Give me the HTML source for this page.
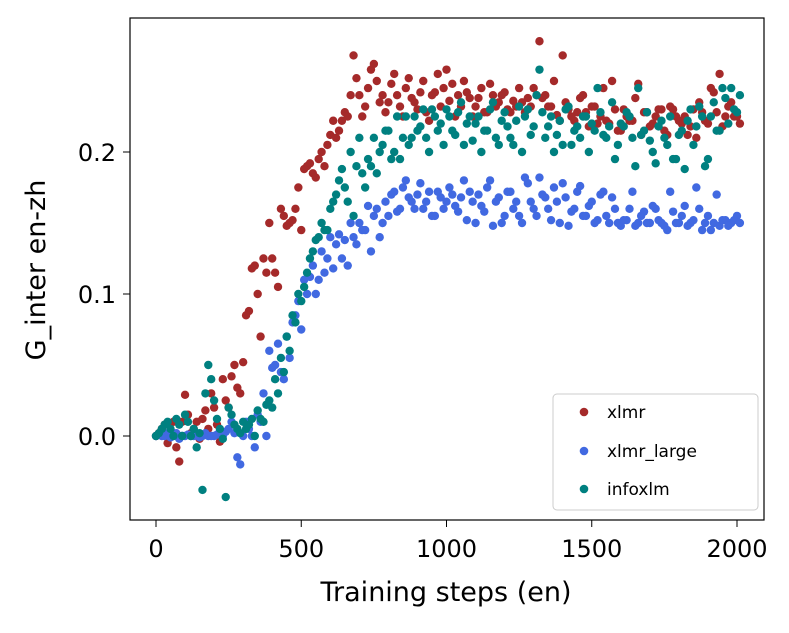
<!DOCTYPE html>
<html><head><meta charset="utf-8"><style>
body{margin:0;background:#fff;}
svg text{font-family:"DejaVu Sans","Liberation Sans",sans-serif;fill:#000;}
</style></head><body>
<svg id="chart" width="789" height="628" viewBox="0 0 789 628" xmlns="http://www.w3.org/2000/svg">
<rect x="130" y="18" width="634" height="502" fill="#fff" stroke="#000" stroke-width="1.2"/>
<g id="marks"></g>
<g id="axes"></g>
<text x="446" y="601" font-size="27" text-anchor="middle">Training steps (en)</text>
<text transform="translate(45,270) rotate(-90)" font-size="27" text-anchor="middle">G_inter en-zh</text>
<g>
<rect x="553" y="394" width="205" height="116" rx="4" fill="#fff" stroke="#ccc"/>
<circle cx="584" cy="412" r="4.3" fill="#a52a2a"/>
<text x="607" y="418" font-size="17">xlmr</text>
<circle cx="584" cy="451" r="4.3" fill="#4169e1"/>
<text x="607" y="457" font-size="17">xlmr_large</text>
<circle cx="584" cy="489" r="4.3" fill="#008080"/>
<text x="607" y="495" font-size="17">infoxlm</text>
</g>
</svg>
<script>
const xStep = 20;
const xlmr = [0.000,0.005,-0.005,0.010,-0.018,0.029,0.002,0.010,0.012,0.005,0.020,-0.004,0.025,0.042,0.034,0.052,0.088,0.120,0.070,0.115,0.125,0.105,0.155,0.150,0.160,0.145,0.190,0.185,0.195,0.190,0.212,0.210,0.222,0.225,0.268,0.240,0.232,0.258,0.250,0.240,0.235,0.255,0.232,0.245,0.238,0.230,0.250,0.222,0.242,0.232,0.258,0.248,0.240,0.250,0.238,0.232,0.245,0.228,0.240,0.235,0.242,0.228,0.232,0.235,0.238,0.245,0.278,0.240,0.232,0.226,0.268,0.230,0.222,0.238,0.228,0.232,0.220,0.245,0.220,0.230,0.215,0.225,0.222,0.248,0.228,0.218,0.225,0.230,0.212,0.230,0.222,0.225,0.218,0.210,0.228,0.220,0.242,0.255,0.225,0.235,0.225];
const xlmrB = [0.002,0.008,0.000,-0.008,0.010,0.015,0.005,-0.002,0.018,0.030,0.008,0.040,0.020,0.050,0.030,0.085,0.118,0.100,0.125,0.150,0.115,0.160,0.148,0.152,0.175,0.188,0.192,0.182,0.200,0.205,0.222,0.215,0.228,0.240,0.252,0.225,0.245,0.262,0.235,0.228,0.248,0.240,0.225,0.252,0.235,0.242,0.228,0.240,0.255,0.245,0.236,0.225,0.232,0.242,0.225,0.238,0.228,0.248,0.232,0.240,0.230,0.236,0.245,0.228,0.232,0.240,0.238,0.232,0.250,0.222,0.235,0.225,0.228,0.240,0.218,0.232,0.225,0.222,0.250,0.215,0.230,0.222,0.238,0.212,0.228,0.220,0.230,0.215,0.232,0.225,0.220,0.212,0.230,0.235,0.222,0.245,0.228,0.218,0.232,0.225,0.220];
const xlmrLarge = [0,0,0.002,0,-0.002,0,0,0.001,0,0,0,0.002,0.003,0.010,-0.015,0.000,0.005,-0.008,0.010,0.000,0.048,0.065,0.040,0.055,0.085,0.075,0.100,0.120,0.110,0.115,0.140,0.135,0.125,0.120,0.140,0.150,0.145,0.130,0.160,0.150,0.155,0.172,0.160,0.180,0.165,0.170,0.160,0.172,0.155,0.168,0.165,0.170,0.158,0.180,0.172,0.150,0.162,0.175,0.148,0.168,0.155,0.172,0.165,0.150,0.178,0.160,0.182,0.168,0.152,0.165,0.178,0.148,0.160,0.176,0.155,0.165,0.152,0.172,0.150,0.160,0.148,0.152,0.172,0.150,0.158,0.150,0.160,0.150,0.145,0.158,0.150,0.162,0.150,0.175,0.145,0.155,0.150,0.148,0.152,0.150,0.155];
const xlmrLargeB = [0.001,0,-0.001,0.002,0,0.001,0,-0.001,0.002,0,0.001,0,0.005,0.002,-0.020,0.010,0.000,0.015,0.030,0.060,0.050,0.045,0.070,0.080,0.095,0.110,0.112,0.100,0.130,0.125,0.118,0.142,0.138,0.150,0.135,0.145,0.162,0.155,0.140,0.165,0.170,0.158,0.175,0.168,0.160,0.178,0.165,0.155,0.172,0.160,0.175,0.162,0.168,0.152,0.165,0.170,0.158,0.180,0.165,0.150,0.172,0.160,0.155,0.182,0.165,0.155,0.170,0.160,0.175,0.150,0.168,0.158,0.172,0.155,0.162,0.150,0.170,0.155,0.168,0.150,0.152,0.160,0.148,0.155,0.150,0.162,0.152,0.148,0.172,0.150,0.155,0.148,0.152,0.160,0.150,0.145,0.170,0.152,0.148,0.152,0.150];
const infoxlm = [0,0.005,0.01,0.0,0.008,0.015,0.0,-0.008,-0.038,0.05,0.025,0.005,-0.043,0.015,0.005,0.010,0.008,0.0,0.012,0.022,0.020,0.030,0.045,0.060,0.080,0.095,0.115,0.130,0.140,0.145,0.160,0.170,0.188,0.165,0.155,0.210,0.175,0.190,0.185,0.205,0.215,0.200,0.195,0.225,0.210,0.215,0.230,0.200,0.225,0.220,0.230,0.215,0.228,0.205,0.225,0.220,0.200,0.215,0.235,0.205,0.228,0.210,0.222,0.200,0.230,0.218,0.258,0.210,0.225,0.212,0.205,0.232,0.215,0.210,0.225,0.220,0.245,0.212,0.218,0.195,0.220,0.228,0.210,0.245,0.215,0.208,0.192,0.222,0.205,0.195,0.212,0.188,0.230,0.218,0.225,0.195,0.235,0.215,0.238,0.245,0.228];
const infoxlmB = [0.002,0.008,0.005,0.012,0.0,0.010,0.005,0.002,0.030,0.040,0.012,-0.002,0.020,0.008,0.002,0.005,0.012,0.018,0.010,0.025,0.040,0.055,0.070,0.085,0.100,0.105,0.125,0.138,0.150,0.145,0.165,0.180,0.175,0.200,0.190,0.185,0.195,0.210,0.200,0.215,0.195,0.225,0.210,0.205,0.225,0.218,0.210,0.230,0.215,0.205,0.225,0.212,0.235,0.220,0.208,0.225,0.215,0.230,0.210,0.222,0.218,0.205,0.232,0.225,0.212,0.240,0.228,0.218,0.200,0.222,0.230,0.205,0.218,0.225,0.200,0.215,0.228,0.210,0.235,0.205,0.218,0.225,0.190,0.212,0.228,0.200,0.218,0.210,0.225,0.195,0.215,0.222,0.205,0.232,0.190,0.225,0.215,0.245,0.220,0.230,0.240];
const xTicks = [0,500,1000,1500,2000];
const yTicks = [0.0,0.1,0.2];
const yTickLabels = ["0.0","0.1","0.2"];

const NS = "http://www.w3.org/2000/svg";
function xScale(v){ return 156 + v*(581/2000); }
function yScale(v){ return 436 - v*1420; }

const marks = document.getElementById('marks');
function drawSeries(vals, offset, color, name){
  vals.forEach((v,i)=>{
    const c = document.createElementNS(NS,'circle');
    c.setAttribute('cx', xScale(offset + i*xStep));
    c.setAttribute('cy', yScale(v));
    c.setAttribute('r', 4.2);
    c.setAttribute('fill', color);
    
    
    c.setAttribute('class', name);
    marks.appendChild(c);
  });
}
drawSeries(xlmr, 0, '#a52a2a', 'xlmr');
drawSeries(xlmrB, 10, '#a52a2a', 'xlmr');
drawSeries(xlmrLarge, 0, '#4169e1', 'xlmr-large');
drawSeries(xlmrLargeB, 10, '#4169e1', 'xlmr-large');
drawSeries(infoxlm, 0, '#008080', 'infoxlm');
drawSeries(infoxlmB, 10, '#008080', 'infoxlm');

const axes = document.getElementById('axes');
xTicks.forEach(t=>{
  const x = xScale(t);
  const l = document.createElementNS(NS,'line');
  l.setAttribute('x1',x); l.setAttribute('x2',x); l.setAttribute('y1',520); l.setAttribute('y2',527);
  l.setAttribute('stroke','#000');
  
  
  axes.appendChild(l);
  const tx = document.createElementNS(NS,'text');
  tx.setAttribute('x',x); tx.setAttribute('y',557); tx.setAttribute('font-size','24'); tx.setAttribute('text-anchor','middle');
  tx.textContent = t;
  
  
  axes.appendChild(tx);
});
yTicks.forEach((t,i)=>{
  const y = yScale(t);
  const l = document.createElementNS(NS,'line');
  l.setAttribute('x1',123); l.setAttribute('x2',130); l.setAttribute('y1',y); l.setAttribute('y2',y);
  l.setAttribute('stroke','#000');
  
  
  axes.appendChild(l);
  const tx = document.createElementNS(NS,'text');
  tx.setAttribute('x',116); tx.setAttribute('y',y+9); tx.setAttribute('font-size','24'); tx.setAttribute('text-anchor','end');
  tx.textContent = yTickLabels[i];
  
  
  axes.appendChild(tx);
});
</script>
</body></html>
